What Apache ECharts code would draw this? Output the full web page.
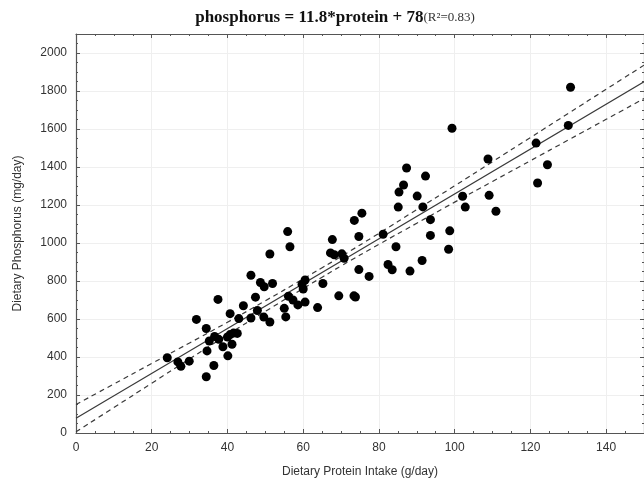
<!DOCTYPE html>
<html>
<head>
<meta charset="utf-8">
<script src="https://cdn.jsdelivr.net/npm/echarts@6/dist/echarts.min.js"></script>
<style>html,body{margin:0;padding:0;background:#fff;}#c{width:644px;height:483px;}</style>
</head>
<body>
<div id="c"></div>
<script>
// Scatter data
const protein = [24.1,26.9,27.7,29.9,31.8,34.4,35.2,34.6,34.4,36.4,36.6,37.5,37.7,38.8,40.1,40.0,40.7,41.2,40.7,41.6,42.6,43.0,44.2,46.2,46.2,47.4,47.9,48.7,49.7,49.6,51.2,51.9,51.2,55.0,55.4,56.1,57.3,58.6,55.9,56.5,59.7,60.5,60.0,60.5,63.8,65.2,67.7,67.2,68.2,70.2,70.8,69.4,73.4,73.8,73.5,75.5,74.7,74.7,77.4,81.1,82.4,83.5,84.5,88.2,85.1,85.3,86.5,87.3,90.1,92.3,91.6,93.6,93.6,91.4,98.7,98.4,99.3,102.1,102.8,108.8,109.1,110.9,121.5,121.9,124.5,130.0,130.6];
const phosphorus = [396,374,351,378,598,550,484,432,296,355,508,703,493,454,406,505,628,467,518,526,524,602,670,605,830,715,645,792,770,610,584,787,942,656,611,720,700,674,1060,980,782,805,758,689,660,787,1018,948,938,943,920,722,722,716,1119,1157,1034,860,824,1046,887,859,980,852,1189,1268,1305,1395,1247,1352,1190,1123,1040,908,1064,967,1604,1246,1189,1442,1251,1167,1526,1316,1412,1619,1820];
// Fitted line (phosphorus = 11.8*protein + 78), end points
const fitX = [0, 150];
const fitY = [78, 1848];
// Confidence band
const bandX = [0,10,20,30,40,50,60,65,70,80,90,100,110,120,130,140,150];
const bandUpper = [150,258,366,474,583,696,811,870,929,1051,1176,1301,1428,1555,1682,1809,1936];
const bandLower = [6,134,262,390,517,640,761,820,879,993,1104,1215,1324,1433,1542,1651,1760];
// Axis settings
const xMin = 0, xMax = 150, xStep = 20;
const yMin = 0, yMax = 2100, yStep = 200;

const pts = protein.map((x, i) => [x, phosphorus[i]]);
const fit = fitX.map((x, i) => [x, fitY[i]]);
const up = bandX.map((x, i) => [x, bandUpper[i]]);
const lo = bandX.map((x, i) => [x, bandLower[i]]);

const lineCol = '#3a3a3a';
const axisCol = '#555';
const sans = '"Liberation Sans", Arial, sans-serif';
const serif = '"Liberation Serif", "Times New Roman", serif';

function baseAxis(extra) {
  return Object.assign({
    type: 'value',
    axisLine: { show: true, onZero: false, lineStyle: { color: axisCol, width: 1.2 } },
    axisTick: { show: true, inside: true, length: 4, lineStyle: { color: axisCol } },
    minorTick: { show: true, splitNumber: 4, length: 2, lineStyle: { color: axisCol } },
    splitLine: { show: false },
    minorSplitLine: { show: false }
  }, extra);
}

const chart = echarts.init(document.getElementById('c'), null, { renderer: 'canvas' });
chart.setOption({
  animation: false,
  backgroundColor: '#fff',
  title: {
    text: '{b|phosphorus = 11.8*protein + 78}{n|(R²=0.83)}',
    left: 330, top: 4, textAlign: 'center',
    textStyle: {
      fontWeight: 'normal',
      rich: {
        b: { fontFamily: serif, fontWeight: 'bold', fontSize: 17, color: '#111' },
        n: { fontFamily: serif, fontWeight: 'normal', fontSize: 13, color: '#333' }
      }
    }
  },
  grid: { left: 76, top: 34, width: 570, height: 400 },
  xAxis: [
    baseAxis({
      min: xMin, max: xMax, interval: xStep, position: 'bottom',
      name: 'Dietary Protein Intake (g/day)', nameLocation: 'middle', nameGap: 33,
      nameTextStyle: { fontFamily: sans, fontSize: 12, color: '#333' },
      axisLabel: { fontFamily: sans, fontSize: 12, color: '#333', margin: 9, showMaxLabel: false,
        formatter: v => (v % xStep === 0 ? String(v) : '') },
      splitLine: { show: true, lineStyle: { color: '#efefef', width: 1 } }
    }),
    baseAxis({ min: xMin, max: xMax, interval: xStep, position: 'top', axisLabel: { show: false } })
  ],
  yAxis: [
    baseAxis({
      min: yMin, max: yMax, interval: yStep, position: 'left',
      name: 'Dietary Phosphorus (mg/day)', nameLocation: 'middle', nameGap: 52,
      nameTextStyle: { fontFamily: sans, fontSize: 12, color: '#333' },
      axisLabel: { fontFamily: sans, fontSize: 12, color: '#333', margin: 9, showMaxLabel: false,
        formatter: v => (v % yStep === 0 ? String(v) : '') },
      splitLine: { show: true, lineStyle: { color: '#efefef', width: 1 } }
    }),
    baseAxis({ min: yMin, max: yMax, interval: yStep, position: 'right', axisLabel: { show: false } })
  ],
  series: [
    { type: 'line', data: up, smooth: true, symbol: 'none', lineStyle: { color: lineCol, width: 1.2, type: [5, 4] }, z: 2 },
    { type: 'line', data: lo, smooth: true, symbol: 'none', lineStyle: { color: lineCol, width: 1.2, type: [5, 4] }, z: 2 },
    { type: 'line', data: fit, symbol: 'none', lineStyle: { color: lineCol, width: 1.2 }, z: 2 },
    { type: 'scatter', data: pts, symbol: 'circle', symbolSize: 9, itemStyle: { color: '#000', opacity: 1 }, z: 3 }
  ]
});
</script>
</body>
</html>
